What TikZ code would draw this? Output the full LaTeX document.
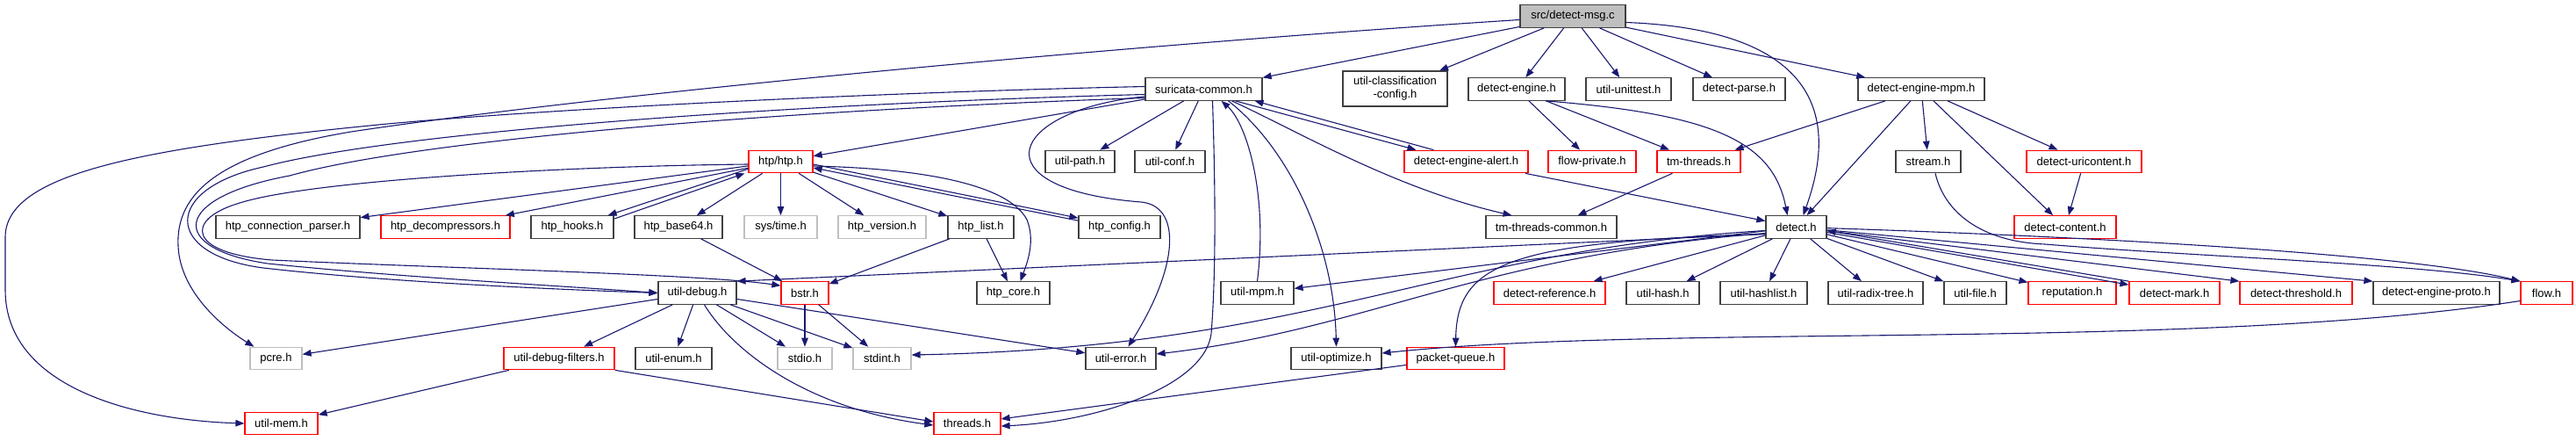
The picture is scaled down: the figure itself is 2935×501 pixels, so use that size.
\documentclass[tikz,border=0pt]{standalone}
\usepackage{fontspec}
\setmainfont{Liberation Sans}
\usetikzlibrary{arrows.meta}
\definecolor{depblue}{HTML}{191970}
\definecolor{boxgray}{HTML}{BFBFBF}
\tikzset{
  hfile/.style={draw=black!75, line width=1.2pt, rectangle, minimum height=25.5pt, inner sep=0pt, font=\fontsize{13}{15}\selectfont},
  hred/.style={hfile, draw=red},
  hsys/.style={hfile, draw=boxgray},
  hroot/.style={hfile, fill=boxgray},
  dep/.style={draw=depblue, line width=1.1pt, -{Triangle[length=10pt,width=7.5pt]}}
}
\begin{document}
\begin{tikzpicture}[x=1pt, y=-1pt]
  \useasboundingbox (0,0) rectangle (2935,501);
  % the file itself
  \path (1792,18.5) node(dmsg) [hroot, minimum width=120pt] {src/detect-msg.c};
  % first row
  \path (1371.5,101.5) node(suricommon) [hfile, minimum width=133pt] {suricata-common.h};
  \path (1589.5,101) node(utilclass) [hfile, minimum width=119pt, minimum height=40pt, align=center] {util-classification\\-config.h};
  \path (1728,101.5) node(detengine) [hfile, minimum width=110pt] {detect-engine.h};
  \path (1855.5,101.5) node(unittest) [hfile, minimum width=97pt] {util-unittest.h};
  \path (1981.5,101.5) node(detparse) [hfile, minimum width=105pt] {detect-parse.h};
  \path (2189,101.5) node(detmpm) [hfile, minimum width=144pt] {detect-engine-mpm.h};
  % second row
  \path (889.5,184) node(htphtp) [hred, minimum width=73pt] {htp/htp.h};
  \path (1230.5,184) node(utilpath) [hfile, minimum width=79pt] {util-path.h};
  \path (1333,184) node(utilconf) [hfile, minimum width=80pt] {util-conf.h};
  \path (1670.5,184) node(detalert) [hred, minimum width=141pt] {detect-engine-alert.h};
  \path (1814,184) node(flowpriv) [hred, minimum width=100pt] {flow-private.h};
  \path (1935.5,184) node(tmthreads) [hred, minimum width=95pt] {tm-threads.h};
  \path (2197,184) node(streamh) [hfile, minimum width=74pt] {stream.h};
  \path (2374.5,184) node(deturi) [hred, minimum width=131pt] {detect-uricontent.h};
  % third row
  \path (328,258.5) node(htpconn) [hfile, minimum width=164pt] {htp\_connection\_parser.h};
  \path (507.5,258.5) node(htpdecomp) [hred, minimum width=147pt] {htp\_decompressors.h};
  \path (652,258.5) node(htphooks) [hfile, minimum width=94pt] {htp\_hooks.h};
  \path (773,258.5) node(htpb64) [hfile, minimum width=100pt] {htp\_base64.h};
  \path (889.5,258.5) node(systime) [hsys, minimum width=83pt] {sys/time.h};
  \path (1005,258.5) node(htpver) [hsys, minimum width=100pt] {htp\_version.h};
  \path (1117.5,258.5) node(htplist) [hfile, minimum width=75pt] {htp\_list.h};
  \path (1275.5,258.5) node(htpconfig) [hfile, minimum width=93pt] {htp\_config.h};
  \path (1767.5,258.5) node(tmcommon) [hfile, minimum width=149pt] {tm-threads-common.h};
  \path (2046.5,258.5) node(detecth) [hfile, minimum width=69pt] {detect.h};
  \path (2353,258.5) node(detcontent) [hred, minimum width=116pt] {detect-content.h};
  % fourth row
  \path (794.5,333.5) node(utildebug) [hfile, minimum width=89pt] {util-debug.h};
  \path (917,333.5) node(bstr) [hred, minimum width=54pt] {bstr.h};
  \path (1154.5,333.5) node(htpcore) [hfile, minimum width=83pt] {htp\_core.h};
  \path (1432.5,333.5) node(utilmpm) [hfile, minimum width=83pt] {util-mpm.h};
  \path (1765.5,333.5) node(detref) [hred, minimum width=127pt] {detect-reference.h};
  \path (1894.5,333.5) node(utilhash) [hfile, minimum width=83pt] {util-hash.h};
  \path (2009.5,333.5) node(utilhashlist) [hfile, minimum width=99pt] {util-hashlist.h};
  \path (2137,333.5) node(radix) [hfile, minimum width=108pt] {util-radix-tree.h};
  \path (2250.5,333.5) node(utilfile) [hfile, minimum width=71pt] {util-file.h};
  \path (2361,333.5) node(reputation) [hred, minimum width=100pt] {reputation.h};
  \path (2477.5,333.5) node(detmark) [hred, minimum width=103pt] {detect-mark.h};
  \path (2616,333.5) node(detthresh) [hred, minimum width=128pt] {detect-threshold.h};
  \path (2776,333.5) node(detproto) [hfile, minimum width=144pt] {detect-engine-proto.h};
  \path (2901.5,333.5) node(flowh) [hred, minimum width=59pt] {flow.h};
  % fifth row
  \path (314.5,408) node(pcre) [hsys, minimum width=59pt] {pcre.h};
  \path (637,408) node(udfilters) [hred, minimum width=126pt] {util-debug-filters.h};
  \path (767.5,408) node(utilenum) [hfile, minimum width=87pt] {util-enum.h};
  \path (917,408) node(stdio) [hsys, minimum width=62pt] {stdio.h};
  \path (1005,408) node(stdint) [hsys, minimum width=66pt] {stdint.h};
  \path (1277,408) node(utilerror) [hfile, minimum width=80pt] {util-error.h};
  \path (1522.5,408) node(utiloptimize) [hfile, minimum width=103pt] {util-optimize.h};
  \path (1658.5,408) node(pktqueue) [hred, minimum width=111pt] {packet-queue.h};
  % last row
  \path (320.5,482) node(utilmem) [hred, minimum width=83pt] {util-mem.h};
  \path (1102,482) node(threads) [hred, minimum width=76pt] {threads.h};

  %% includes of src/detect-msg.c
  \draw[dep] (dmsg) -- (suricommon);
  \draw[dep] (dmsg) -- (utilclass);
  \draw[dep] (dmsg) -- (detengine);
  \draw[dep] (dmsg) -- (unittest);
  \draw[dep] (dmsg) -- (detparse);
  \draw[dep] (dmsg) -- (detmpm);
  \draw[dep] ([yshift=-7pt]dmsg.east) .. controls (2100,35) and (2085,160) .. ([xshift=8pt]detecth.north);
  \draw[dep] ([yshift=-4pt]dmsg.west) .. controls (1300,50) and (700,105) .. (400,150) .. controls (250,175) and (200,220) .. (203,280) .. controls (205,330) and (250,370) .. ([xshift=5pt]pcre.north west);

  %% suricata-common.h
  \draw[dep] (suricommon) -- (htphtp);
  \draw[dep] (suricommon) -- (utilpath);
  \draw[dep] (suricommon) -- (utilconf);
  \draw[dep] ([xshift=32pt]suricommon.south) .. controls (1480,150) and (1590,215) .. ([xshift=-45pt]tmcommon.north);
  \draw[dep] ([xshift=36pt]suricommon.south) -- ([xshift=-57pt]detalert.north);
  \draw[dep] ([xshift=-37pt]detalert.north) -- ([xshift=58pt]suricommon.south);
  \draw[dep] ([xshift=28pt]suricommon.south) .. controls (1470,170) and (1520,280) .. (utiloptimize.north);
  \draw[dep] (utilmpm.north) .. controls (1445,220) and (1420,140) .. ([xshift=20pt]suricommon.south);
  \draw[dep] ([xshift=10pt]suricommon.south) .. controls (1386,250) and (1384,330) .. (1380,380) .. controls (1372,440) and (1250,480) .. ([yshift=-3pt]threads.east);
  \draw[dep] ([yshift=5pt]suricommon.south west) .. controls (1150,125) and (1110,215) .. (1300,230) .. controls (1345,234) and (1345,300) .. (utilerror);
  \draw[dep] ([yshift=3pt]suricommon.west) .. controls (1000,105) and (600,125) .. (421,143) .. controls (150,170) and (6,200) .. (6,270) -- (6,330) .. controls (6,440) and (150,478) .. (utilmem.west);
  \draw[dep] ([yshift=-6pt]suricommon.west) .. controls (900,118) and (450,150) .. (300,190) .. controls (185,215) and (185,290) .. (300,305) .. controls (450,322) and (650,330) .. (utildebug.west);
  \draw[dep] ([yshift=-10pt]suricommon.west) .. controls (900,125) and (480,158) .. (330,200) .. controls (195,225) and (190,283) .. (305,300) .. controls (460,316) and (650,326) .. (utildebug.west);

  %% htp/htp.h
  \draw[dep] (htphtp) -- (htpconn);
  \draw[dep] (htphtp) -- (htpdecomp);
  \draw[dep] ([yshift=5pt]htphtp.south west) -- ([xshift=-7pt]htphooks.north east);
  \draw[dep] ([yshift=-4pt]htphooks.north east) -- ([xshift=-4pt]htphtp.south west);
  \draw[dep] (htphtp) -- (htpb64);
  \draw[dep] (htphtp) -- (systime);
  \draw[dep] (htphtp) -- (htpver);
  \draw[dep] (htphtp) -- (htplist);
  \draw[dep] ([yshift=-3pt]htphtp.east) -- ([yshift=-3pt]htpconfig.north west);
  \draw[dep] ([yshift=-6pt]htpconfig.north west) -- ([yshift=-7pt]htphtp.east);
  \draw[dep] ([yshift=-5pt]htphtp.east) .. controls (1060,192) and (1150,212) .. (1170,250) .. controls (1180,275) and (1170,300) .. ([xshift=8pt]htpcore.north);
  \draw[dep] ([yshift=-3pt]htphtp.west) .. controls (650,189) and (350,205) .. (270,232) .. controls (212,250) and (212,288) .. (310,296) .. controls (500,305) and (800,312) .. ([yshift=-5pt]bstr.north west);
  \draw[dep] (htpb64) -- (bstr);
  \draw[dep] (htplist) -- (bstr);
  \draw[dep] (htplist) -- (htpcore);
  \draw[dep] (bstr) -- (stdio);
  \draw[dep] (bstr) -- (stdint);

  %% util-debug.h
  \draw[dep] (utildebug) -- (udfilters);
  \draw[dep] (utildebug) -- (utilenum);
  \draw[dep] (utildebug) -- (stdio);
  \draw[dep] (utildebug) -- (stdint);
  \draw[dep] (utildebug) -- (pcre);
  \draw[dep] (utildebug) -- (utilerror);
  \draw[dep] ([xshift=8pt]utildebug.south) .. controls (835,400) and (920,465) .. ([yshift=-2pt]threads.west);
  \draw[dep] (udfilters.south east) -- ([yshift=2pt]threads.west);
  \draw[dep] (udfilters) -- (utilmem);

  %% detect.h and friends
  \draw[dep] ([yshift=-8pt]detecth.west) -- (utildebug.north east);
  \draw[dep] (detecth) -- (utilmpm);
  \draw[dep] ([yshift=-4pt]detecth.west) .. controls (1640,285) and (1500,395) .. ([yshift=4pt]stdint.east);
  \draw[dep] ([yshift=-7pt]detecth.west) .. controls (1680,292) and (1560,375) .. ([yshift=5pt]utilerror.east);
  \draw[dep] ([yshift=-8pt]detecth.west) .. controls (1720,275) and (1660,300) .. (pktqueue.north);
  \draw[dep] (detecth) -- (detref);
  \draw[dep] (detecth) -- (utilhash);
  \draw[dep] (detecth) -- (utilhashlist);
  \draw[dep] (detecth) -- (radix);
  \draw[dep] (detecth) -- (utilfile);
  \draw[dep] (detecth) -- (reputation);
  \draw[dep] (detecth) -- ([yshift=-4pt]detmark.north west);
  \draw[dep] (detmark.north west) -- ([yshift=-4pt]detecth.east);
  \draw[dep] (detecth) -- (detthresh.north west);
  \draw[dep] (detecth) -- (detproto.north west);
  \draw[dep] (detecth) .. controls (2400,270) and (2750,290) .. (flowh.north west);
  \draw[dep] ([xshift=8pt]streamh.south) .. controls (2215,240) and (2255,275) .. (2330,278) .. controls (2500,292) and (2750,300) .. (flowh.north west);
  \draw[dep] ([yshift=-9pt]flowh.west) .. controls (2500,400) and (1900,368) .. ([yshift=6pt]utiloptimize.east);
  \draw[dep] (pktqueue) -- (threads);
  \draw[dep] (detalert) -- (detecth);
  \draw[dep] (tmthreads) -- (tmcommon);
  \draw[dep] (detengine) -- (flowpriv);
  \draw[dep] (detengine) -- (tmthreads);
  \draw[dep] ([xshift=33pt]detengine.south) .. controls (1950,130) and (2020,160) .. ([xshift=-10pt]detecth.north);
  \draw[dep] (detmpm) -- (tmthreads);
  \draw[dep] (detmpm) -- (detecth);
  \draw[dep] (detmpm) -- (streamh);
  \draw[dep] (detmpm) -- (deturi);
  \draw[dep] (detmpm) -- (detcontent);
  \draw[dep] (deturi) -- (detcontent);
\end{tikzpicture}
\end{document}
